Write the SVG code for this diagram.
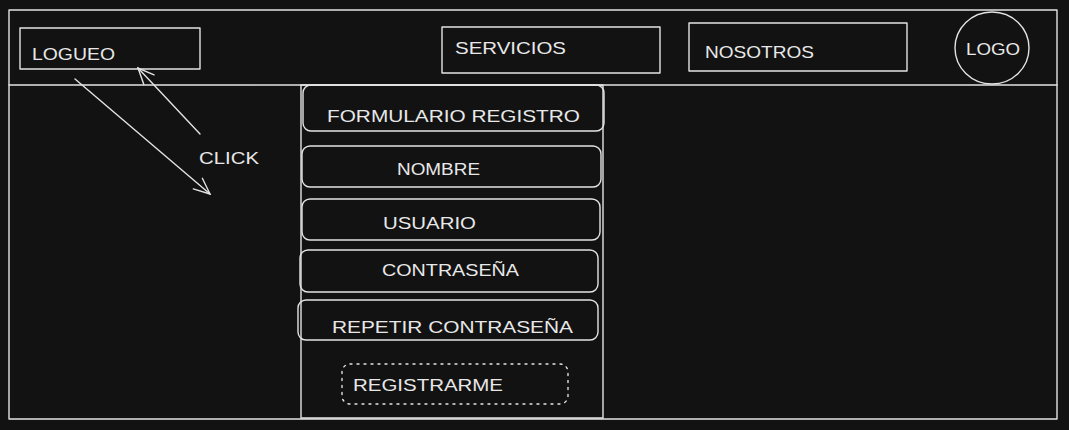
<svg xmlns="http://www.w3.org/2000/svg" width="1069" height="430" viewBox="0 0 1069 430">
<style>
.s{fill:none;stroke:#e3e3e3;stroke-width:1.4;stroke-linecap:round;stroke-linejoin:round}
.d{fill:none;stroke:#e3e3e3;stroke-width:1.4;stroke-dasharray:2 5;stroke-linecap:round}
.t{font-family:"Liberation Sans",Arial,sans-serif;font-size:17px;fill:#e8e8e8}
</style>
<defs>
<marker id="ah" viewBox="0 0 20 20" refX="18" refY="10" markerWidth="20" markerHeight="20" markerUnits="userSpaceOnUse" orient="auto">
<path d="M2 3 L18 10 L2 17" fill="none" stroke="#e3e3e3" stroke-width="1.4" stroke-linecap="round"/>
</marker>
</defs>
<rect width="1069" height="430" fill="#121212"/>
<g id="frame">
<rect class="s" x="9" y="10" width="1048" height="409"/>
<line class="s" x1="9" y1="85" x2="1057" y2="85"/>
</g>
<g id="logueo">
<rect class="s" x="20" y="28" width="180" height="41"/>
<text class="t" x="32" y="60" textLength="83" lengthAdjust="spacingAndGlyphs">LOGUEO</text>
</g>
<g id="servicios">
<rect class="s" x="442" y="27" width="218" height="46"/>
<text class="t" x="455" y="54" textLength="111" lengthAdjust="spacingAndGlyphs">SERVICIOS</text>
</g>
<g id="nosotros">
<rect class="s" x="689" y="23" width="218" height="48"/>
<text class="t" x="705" y="58" textLength="109" lengthAdjust="spacingAndGlyphs">NOSOTROS</text>
</g>
<g id="logo">
<ellipse class="s" cx="992" cy="48" rx="37" ry="36"/>
<text class="t" x="966" y="55" textLength="54" lengthAdjust="spacingAndGlyphs">LOGO</text>
</g>
<g id="form">
<rect class="s" x="301" y="85" width="302" height="333"/>
</g>
<g id="formulario">
<rect class="s" x="303" y="85" width="301" height="46" rx="8"/>
<text class="t" x="327" y="122" textLength="253" lengthAdjust="spacingAndGlyphs">FORMULARIO REGISTRO</text>
</g>
<g id="nombre">
<rect class="s" x="302" y="146" width="299" height="41" rx="8"/>
<text class="t" x="397" y="175" textLength="83" lengthAdjust="spacingAndGlyphs">NOMBRE</text>
</g>
<g id="usuario">
<rect class="s" x="302" y="199" width="298" height="41" rx="8"/>
<text class="t" x="383" y="229" textLength="93" lengthAdjust="spacingAndGlyphs">USUARIO</text>
</g>
<g id="contrasena">
<rect class="s" x="300" y="250" width="298" height="42" rx="8"/>
<text class="t" x="382" y="276" textLength="137" lengthAdjust="spacingAndGlyphs">CONTRASEÑA</text>
</g>
<g id="repetir">
<rect class="s" x="298" y="300" width="300" height="40" rx="8"/>
<text class="t" x="332" y="333" textLength="241" lengthAdjust="spacingAndGlyphs">REPETIR CONTRASEÑA</text>
</g>
<g id="registrarme">
<rect class="d" x="342" y="364" width="226" height="40" rx="8"/>
<text class="t" x="353" y="391" textLength="150" lengthAdjust="spacingAndGlyphs">REGISTRARME</text>
</g>
<g id="click">
<text class="t" x="199" y="164" textLength="60" lengthAdjust="spacingAndGlyphs">CLICK</text>
</g>
<g id="connectors">
<line class="s" x1="75" y1="79" x2="210" y2="194" marker-end="url(#ah)"/>
<line class="s" x1="200" y1="134" x2="138" y2="68" marker-end="url(#ah)"/>
</g>
</svg>
